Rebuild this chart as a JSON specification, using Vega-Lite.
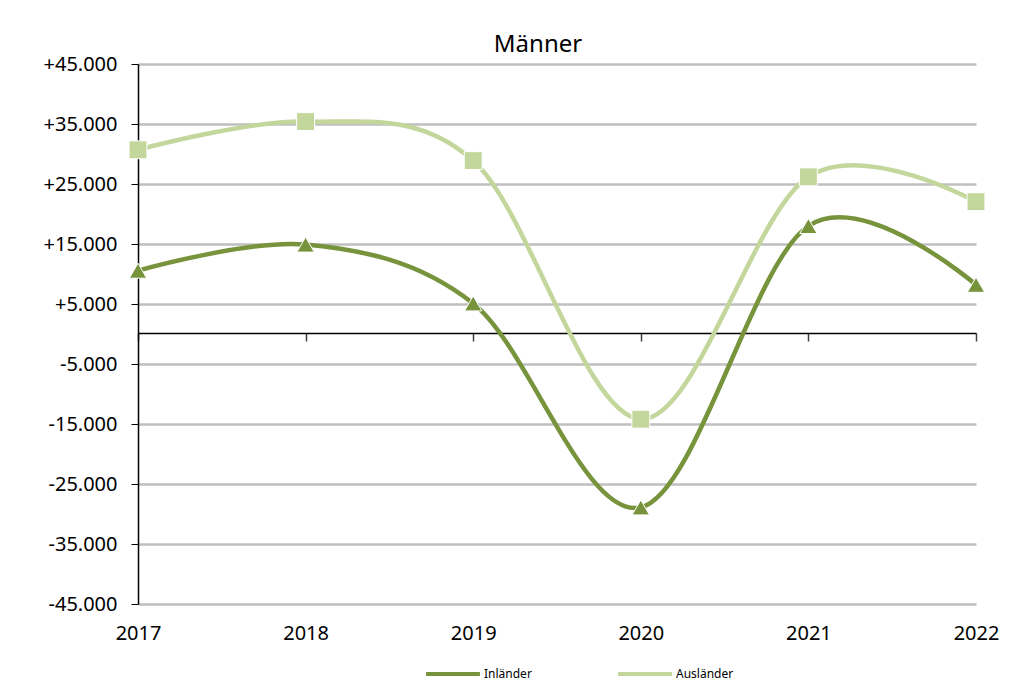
{
  "$schema": "https://vega.github.io/schema/vega-lite/v6.json",
  "autosize": {"type": "none"},
  "width": 838,
  "height": 540,
  "padding": {"left": 138, "top": 64, "right": 59, "bottom": 87},
  "background": "white",
  "config": {
    "font": "Noto Sans",
    "view": {"stroke": null}
  },
  "title": {
    "text": "Männer",
    "fontSize": 24,
    "fontWeight": "normal",
    "color": "#000000",
    "font": "Noto Sans",
    "anchor": "middle",
    "dx": -19,
    "offset": -3
  },
  "data": {
    "values": [
      {"year": "2017", "series": "Inländer", "value": 10550},
      {"year": "2018", "series": "Inländer", "value": 14900},
      {"year": "2019", "series": "Inländer", "value": 5100},
      {"year": "2020", "series": "Inländer", "value": -28900},
      {"year": "2021", "series": "Inländer", "value": 18000},
      {"year": "2022", "series": "Inländer", "value": 8200},
      {"year": "2017", "series": "Ausländer", "value": 30700},
      {"year": "2018", "series": "Ausländer", "value": 35400},
      {"year": "2019", "series": "Ausländer", "value": 28900},
      {"year": "2020", "series": "Ausländer", "value": -14200},
      {"year": "2021", "series": "Ausländer", "value": 26200},
      {"year": "2022", "series": "Ausländer", "value": 22050}
    ]
  },
  "encoding": {
    "x": {"field": "year", "type": "ordinal", "scale": {"type": "point", "padding": 0}},
    "y": {
      "field": "value",
      "type": "quantitative",
      "scale": {"domain": [-45000, 45000], "nice": false, "zero": false},
      "axis": {
        "title": null,
        "values": [-45000, -35000, -25000, -15000, -5000, 5000, 15000, 25000, 35000, 45000],
        "labelExpr": "(datum.value > 0 ? '+' : '-') + replace(format(abs(datum.value), ',d'), ',', '.')",
        "labelFontSize": 20,
        "labelColor": "#000000",
        "labelPadding": 14,
        "tickSize": 7,
        "tickColor": "#000000",
        "domainColor": "#000000",
        "domainWidth": 1.5,
        "grid": true,
        "gridColor": "#BFBFBF",
        "gridWidth": 2.5
      }
    }
  },
  "layer": [
    {
      "mark": {"type": "line", "interpolate": "cardinal", "tension": 0, "strokeWidth": 4.5},
      "encoding": {
        "x": {
          "field": "year", "type": "ordinal", "scale": {"type": "point", "padding": 0},
          "axis": {
            "orient": "bottom", "title": null, "domain": false, "ticks": false, "grid": false,
            "labelAngle": 0, "labelFontSize": 20, "labelColor": "#000000", "labelPadding": 19
          }
        },
        "color": {
          "field": "series",
          "type": "nominal",
          "scale": {"domain": ["Inländer", "Ausländer"], "range": ["#77933C", "#C3D69B"]},
          "legend": {
            "title": null,
            "orient": "none",
            "direction": "horizontal",
            "legendX": 286,
            "legendY": 581,
            "padding": 0,
            "symbolType": "stroke",
            "symbolSize": 2900,
            "symbolStrokeWidth": 4,
            "labelFontSize": 12,
            "labelColor": "#000000",
            "labelOffset": 2,
            "columnPadding": 78
          }
        }
      }
    },
    {
      "transform": [{"filter": "datum.series === 'Inländer'"}],
      "mark": {"type": "point", "shape": "triangle-up", "filled": true, "opacity": 1, "size": 300, "color": "#77933C", "stroke": "white", "strokeWidth": 1},
      "encoding": {
        "x": {
          "field": "year", "type": "ordinal", "scale": {"type": "point", "padding": 0},
          "axis": {
            "orient": "bottom", "offset": -271, "title": null, "labels": false, "grid": false,
            "domainColor": "#000000", "domainWidth": 1.5, "tickColor": "#404040", "tickSize": 8, "tickWidth": 1.5
          }
        }
      }
    },
    {
      "transform": [{"filter": "datum.series === 'Ausländer'"}],
      "mark": {"type": "point", "shape": "square", "filled": true, "opacity": 1, "size": 320, "color": "#C3D69B", "stroke": "white", "strokeWidth": 1},
      "encoding": {
        "x": {
          "field": "year", "type": "ordinal", "scale": {"type": "point", "padding": 0},
          "axis": null
        }
      }
    }
  ],
  "resolve": {"axis": {"x": "independent"}}
}
